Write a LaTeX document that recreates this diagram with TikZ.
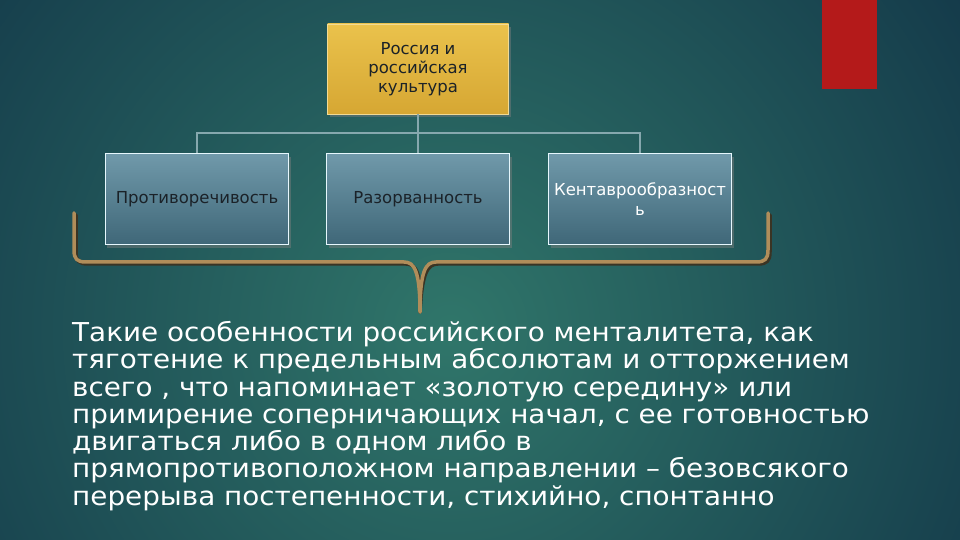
\documentclass[tikz,border=0pt]{standalone}
\usepackage{fontspec}
\setmainfont{DejaVu Sans}
\newfontfamily\widefont[FakeStretch=1.07]{DejaVu Sans}
\usepackage{tikz}
\usetikzlibrary{positioning, shadows, calc}
\definecolor{bginner}{HTML}{30766A}
\definecolor{bgouter}{HTML}{143A4A}
\definecolor{goldtop}{HTML}{EAC24C}
\definecolor{goldbot}{HTML}{D6A733}
\definecolor{steeltop}{HTML}{7099AA}
\definecolor{steelbot}{HTML}{3F6778}
\definecolor{linkgray}{HTML}{86A8AE}
\definecolor{bracetan}{HTML}{B08D5A}
\definecolor{braceshade}{HTML}{3A3424}
\definecolor{barred}{HTML}{B41A1A}
\definecolor{inkdark}{HTML}{1B2228}

\begin{document}
\begin{tikzpicture}[
    x=1bp, y=-1bp,
    topic/.style={draw=goldtop!60!white, line width=0.6bp, top color=goldtop, bottom color=goldbot,
        minimum width=181bp, minimum height=90bp, align=center, text=inkdark,
        font=\fontsize{16.5bp}{19bp}\selectfont,
        drop shadow={shadow xshift=2bp, shadow yshift=-3bp, opacity=0.45}},
    trait/.style={draw=white!90!cyan, line width=1bp, top color=steeltop, bottom color=steelbot,
        minimum width=183bp, minimum height=91bp, align=center, text=inkdark,
        font=\fontsize{16.5bp}{20bp}\selectfont,
        drop shadow={shadow xshift=2bp, shadow yshift=-3bp, opacity=0.45}},
    link/.style={linkgray, line width=2bp},
    brace/.style={bracetan, line width=3.5bp, line cap=round, line join=round},
    para/.style={anchor=north west, inner sep=0pt, align=left, text=white,
        font=\widefont\fontsize{26bp}{27.3bp}\selectfont}
]
    % Background
    \useasboundingbox (0,0) rectangle (960,540);
    \fill[bgouter] (0,0) rectangle (960,540);
    \begin{scope}
        \clip (0,0) rectangle (960,540);
        \shade[inner color=bginner, outer color=bgouter] (450,330) circle (620);
    \end{scope}
    \fill[barred] (822,0) rectangle (877,89);

    % Nodes - top row
    \node[topic] (culture) at (418,69) {Россия и\\российская\\культура};

    % Nodes - bottom row
    \node[trait, below=39bp of culture] (razor) {Разорванность};
    \node[trait, left=37bp of razor] (contr) {Противоречивость};
    \node[trait, right=38bp of razor, text=white] (kentavr) {Кентаврообразност\\ь};

    % Connectors
    \coordinate (bus) at (418,133);
    \draw[link] (culture) -- (bus);
    \draw[link] (bus) -| (contr);
    \draw[link] (bus) -| (razor);
    \draw[link] (bus) -| (kentavr);

    % Brace
    \coordinate (tip) at (420,312);
    \foreach \dx/\col/\w in {2/braceshade/3.5bp, 0/bracetan/3.5bp} {
        \begin{scope}[shift={(\dx,\dx)}]
            \draw[brace, draw=\col, line width=\w] (74,213) -- (74,250) .. controls (74,259) and (77,262) .. (86,262)
                -- (404,262) .. controls (414,262) and (420,270) .. (tip);
            \draw[brace, draw=\col, line width=\w] (768,213) -- (768,250) .. controls (768,259) and (765,262) .. (756,262)
                -- (436,262) .. controls (426,262) and (420,270) .. (tip);
        \end{scope}
    }

    % Text
    \node[para] (mentality) at (72,321) {Такие особенности российского менталитета, как\\
        тяготение к предельным абсолютам и отторжением\\
        всего , что напоминает «золотую середину» или\\
        примирение соперничающих начал, с ее готовностью\\
        двигаться либо в одном либо в\\
        прямопротивоположном направлении – безовсякого\\
        перерыва постепенности, стихийно, спонтанно};
\end{tikzpicture}
\end{document}
